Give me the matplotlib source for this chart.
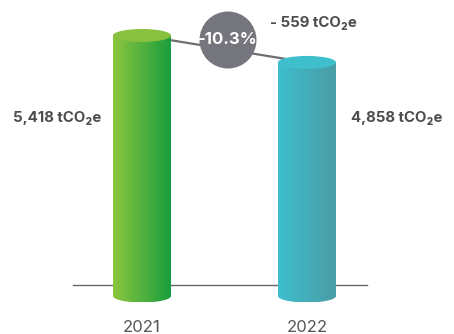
import numpy as np
import matplotlib
matplotlib.use("Agg")
import matplotlib.pyplot as plt
from matplotlib.patches import Ellipse, Polygon
from matplotlib.colors import LinearSegmentedColormap

years = ["2021", "2022"]
emissions = [5418, 4858]
value_labels = ["5,418 tCO\u2082e", "4,858 tCO\u2082e"]
change_label = "-10.3%"
diff_label = "- 559 tCO\u2082e"
left_colors = ["#8cc63f", "#3dbfcd"]
right_colors = ["#1a9d3d", "#4b9ca5"]
top_colors = ["#88c13d", "#3fbfcb"]

plt.rcParams['font.family'] = ['Inter', 'DejaVu Sans']

fig = plt.figure(figsize=(4.54, 3.34), dpi=100)
ax = fig.add_axes([0, 0, 1, 1])
ax.axis('off')

# pixel layout of the reference: bars 165px apart, zero level at y=296px
unit = 165
scale = 5418 / 260.5

x = np.arange(len(years))
w = 58 / unit
ry = 6.5 * scale

# baseline + connector between the two tops
ax.plot([-0.42, 1.364], [11 * scale] * 2, color='#666666', lw=1.0, zorder=1)
ax.plot(x, emissions, color='#6e6e73', lw=1.6, zorder=1)

t = np.linspace(0, np.pi, 60)
grad = np.linspace(0, 1, 256).reshape(1, -1)
for i, v in enumerate(emissions):
    x0, x1 = x[i] - w / 2, x[i] + w / 2
    bottom = np.column_stack([x[i] - w / 2 * np.cos(t), -ry * np.sin(t)])
    verts = np.vstack([[x0, v], bottom, [x1, v]])
    clip = Polygon(verts, closed=True, facecolor='none', edgecolor='none')
    ax.add_patch(clip)
    cmap = LinearSegmentedColormap.from_list('bar%d' % i, [left_colors[i], right_colors[i]])
    im = ax.imshow(grad, cmap=cmap, extent=[x0, x1, -ry, v], aspect='auto',
                   zorder=2, interpolation='bicubic')
    im.set_clip_path(clip)
    ax.add_patch(Ellipse((x[i], v), w, 2 * ry, facecolor=top_colors[i],
                         edgecolor='none', zorder=3))

# change bubble
cx = 0.5 + 3.5 / unit
cy = (296 - 40) * scale
ax.add_patch(Ellipse((cx, cy), 57 / unit, 57 * scale, facecolor='#75757d',
                     edgecolor='none', zorder=4))
ax.text(cx, cy, change_label, color='white', fontsize=12, fontweight='bold',
        ha='center', va='center', zorder=5)

lab_style = dict(color='#4d4d4d', fontsize=10.8, fontweight='bold', va='center', zorder=5)
ax.text((57.5 - 142) / unit, (296 - 118) * scale, value_labels[0], ha='center', **lab_style)
ax.text((397 - 142) / unit, (296 - 118) * scale, value_labels[1], ha='center', **lab_style)
ax.text((313 - 142) / unit, (296 - 23) * scale, diff_label, ha='center', **lab_style)

for i, yr in enumerate(years):
    ax.text(x[i], (296 - 328) * scale, yr, color='#555555', fontsize=12,
            ha='center', va='center')

ax.set_xlim(-142 / unit, (454 - 142) / unit)
ax.set_ylim(-(334 - 296) * scale, 296 * scale)

fig.savefig('out.png', dpi=100)
